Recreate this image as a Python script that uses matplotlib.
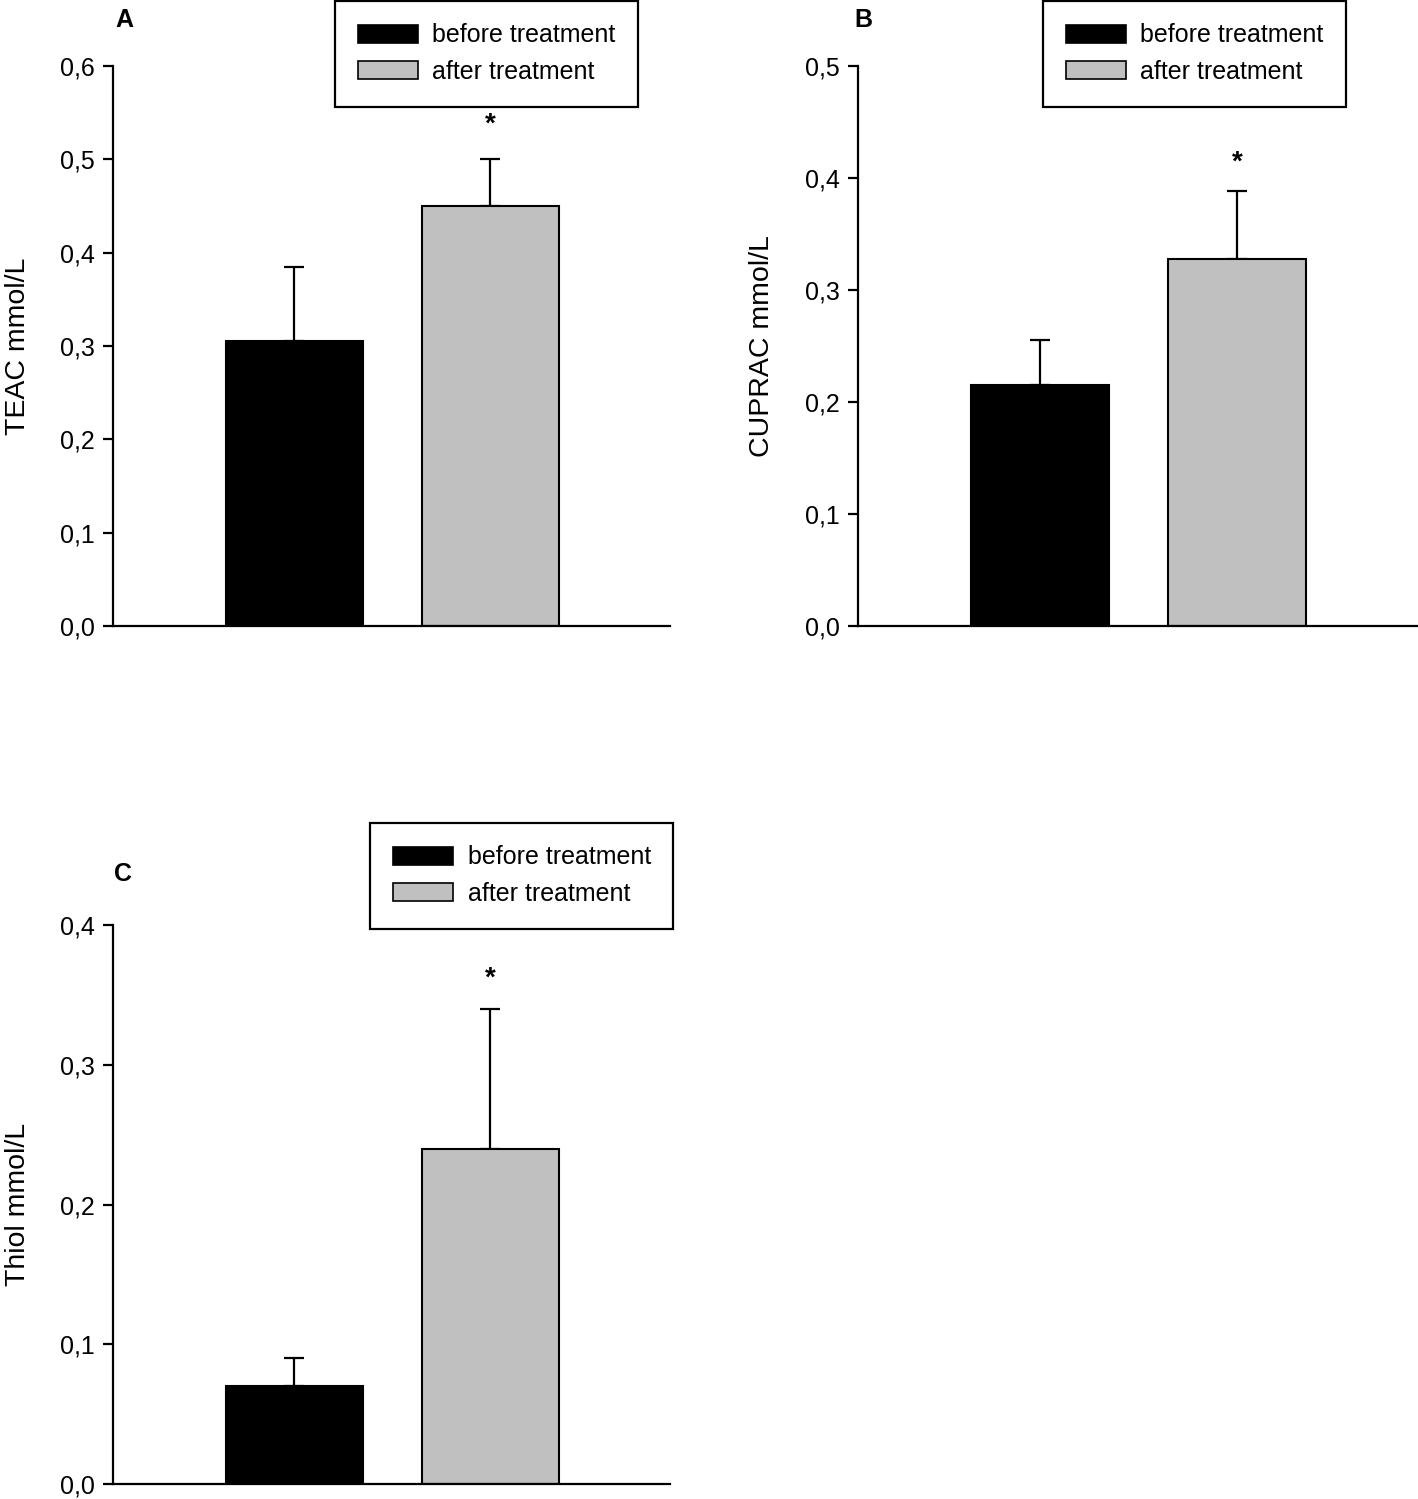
import matplotlib
matplotlib.use("Agg")
import matplotlib.pyplot as plt
import numpy as np

plt.rcParams['font.family'] = ['Liberation Sans', 'DejaVu Sans']

# ---- data ----
groups = ["before treatment", "after treatment"]
colors = ["#000000", "#C0C0C0"]

teac_mean = [0.305, 0.45]
teac_err = [0.08, 0.05]
cuprac_mean = [0.215, 0.328]
cuprac_err = [0.04, 0.06]
thiol_mean = [0.07, 0.24]
thiol_err = [0.02, 0.10]

teac_ticks = [0.0, 0.1, 0.2, 0.3, 0.4, 0.5, 0.6]
cuprac_ticks = [0.0, 0.1, 0.2, 0.3, 0.4, 0.5]
thiol_ticks = [0.0, 0.1, 0.2, 0.3, 0.4]

W, H = 1418, 1499
fig = plt.figure(figsize=(W / 100, H / 100), dpi=100)

def fx(px):
    return px / W

def fy(py):
    return 1 - py / H

FS = 18

def panel(rect, means, errs, ticks, ylabel, letter, letter_pos, leg_pos, star_off):
    l, t, r, b = rect
    ax = fig.add_axes([fx(l), fy(b), fx(r) - fx(l), fy(t) - fy(b)])
    x = np.arange(len(means))
    ax.bar(x, means, width=0.70, color=colors, edgecolor="black", linewidth=1.5,
           zorder=2)
    ax.errorbar(x, means, yerr=[np.zeros(len(errs)), errs], fmt="none",
                ecolor="black", elinewidth=1.6, capsize=7, capthick=1.6, zorder=1)
    # significance star on the second bar
    ax.annotate("*", xy=(x[1], means[1] + errs[1]), xytext=(0, star_off),
                textcoords="offset points", ha="center", va="center",
                fontsize=20, fontweight="bold")
    ax.set_xlim(-0.925, 1.917)
    ax.set_ylim(ticks[0], ticks[-1])
    ax.set_yticks(ticks)
    ax.set_yticklabels([("%.1f" % v).replace(".", ",") for v in ticks], fontsize=FS)
    ax.set_xticks([])
    for s in ["top", "right"]:
        ax.spines[s].set_visible(False)
    for s in ["left", "bottom"]:
        ax.spines[s].set_linewidth(1.6)
    ax.tick_params(axis="y", direction="out", length=7, width=1.6, pad=6)
    ax.set_ylabel(ylabel, fontsize=20.5)
    ax.yaxis.set_label_coords(-0.148, 0.5)
    fig.text(fx(letter_pos[0]), fy(letter_pos[1]), letter, fontsize=18,
             fontweight="bold", ha="center", va="center")
    handles = [plt.Rectangle((0, 0), 1, 1, facecolor=c, edgecolor="black", linewidth=1.2)
               for c in colors]
    leg = fig.legend(handles, groups, loc="upper left",
                     bbox_to_anchor=(fx(leg_pos[0]), fy(leg_pos[1])),
                     fontsize=FS, frameon=True, fancybox=False, framealpha=1,
                     edgecolor="black", handlelength=2.4, handleheight=0.72,
                     handletextpad=0.6, borderpad=0.9, labelspacing=0.5,
                     borderaxespad=0)
    leg.get_frame().set_linewidth(1.6)
    return ax

panel((113, 66, 670, 626), teac_mean, teac_err, teac_ticks, "TEAC mmol/L", "A",
      (124, 20), (335, 1), 25)
panel((858, 66, 1418, 626), cuprac_mean, cuprac_err, cuprac_ticks, "CUPRAC mmol/L", "B",
      (863, 20), (1043, 1), 21)
panel((113, 925, 670, 1484), thiol_mean, thiol_err, thiol_ticks, "Thiol mmol/L", "C",
      (123, 874), (370, 823), 22)

fig.savefig("out.png", dpi=100)
